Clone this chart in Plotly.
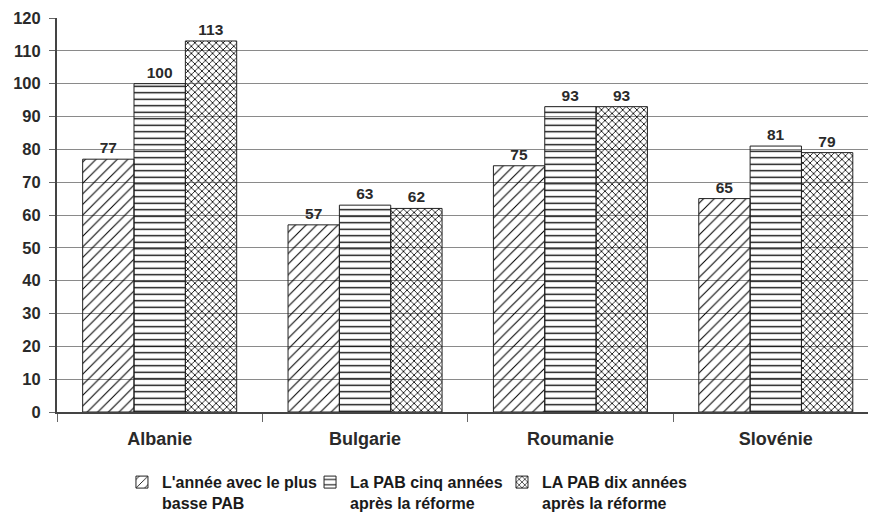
import plotly.graph_objects as go

countries = ["Albanie", "Bulgarie", "Roumanie", "Slovénie"]
series_names = [
    "L'année avec le plus<br>basse PAB",
    "La PAB cinq années<br>après la réforme",
    "LA PAB dix années<br>après la réforme",
]
lowest_year = [77, 57, 75, 65]
five_years_after = [100, 63, 93, 81]
ten_years_after = [113, 62, 93, 79]
y_ticks = list(range(0, 121, 10))

values = [lowest_year, five_years_after, ten_years_after]
patterns = [
    dict(shape="/", size=7.5, solidity=0.14),
    dict(shape="-", size=6.5, solidity=0.2),
    dict(shape="x", size=5, solidity=0.3),
]
legend_ids = ["legend", "legend2", "legend3"]
legend_x = [0.0801, 0.312, 0.5487]

FONT = "Liberation Sans, Arial, sans-serif"
TXT = "#2a2a2a"

fig = go.Figure()
for name, vals, pat, lid in zip(series_names, values, patterns, legend_ids):
    fig.add_trace(go.Bar(
        x=countries, y=vals, name=name, legend=lid,
        text=[str(v) for v in vals], textposition="outside",
        textfont=dict(family=FONT, size=15.5, color=TXT, weight="bold"),
        cliponaxis=False,
        marker=dict(
            color="black",
            line=dict(color="#222222", width=1),
            pattern=dict(fgcolor="black", bgcolor="rgba(0,0,0,0)",
                         fillmode="replace", **pat),
        ),
    ))

legend_style = dict(
    orientation="h", xanchor="left", y=-0.135, yanchor="top",
    font=dict(family=FONT, size=16, color="#1a1a1a", weight="bold"),
    bgcolor="rgba(0,0,0,0)", itemwidth=30, valign="top",
)

fig.update_layout(
    width=870, height=512,
    margin=dict(l=57, r=2, t=18, b=100, autoexpand=False),
    paper_bgcolor="white", plot_bgcolor="white",
    barmode="group", bargap=0.25, bargroupgap=0,
    font=dict(family=FONT, size=14, color=TXT),
    showlegend=True,
    legend=dict(x=legend_x[0], **legend_style),
    legend2=dict(x=legend_x[1], **legend_style),
    legend3=dict(x=legend_x[2], **legend_style),
)

fig.update_xaxes(
    range=[-0.5, 3.449],
    showline=True, linecolor="#444444", linewidth=2,
    ticks="outside", tickson="boundaries", ticklen=8, tickcolor="#666666",
    tickfont=dict(family=FONT, size=18, color=TXT, weight="bold"),
    ticklabelstandoff=9,
    showgrid=False,
)
fig.update_yaxes(
    range=[0, 120], tickvals=y_ticks,
    showline=True, linecolor="#444444", linewidth=2,
    ticks="outside", ticklen=6, tickcolor="#666666",
    tickfont=dict(family=FONT, size=16.5, color=TXT, weight="bold"),
    ticklabelstandoff=5,
    showgrid=True, gridcolor="#8a8a8a", gridwidth=1,
    zeroline=False,
)

fig.write_html("out.html")
